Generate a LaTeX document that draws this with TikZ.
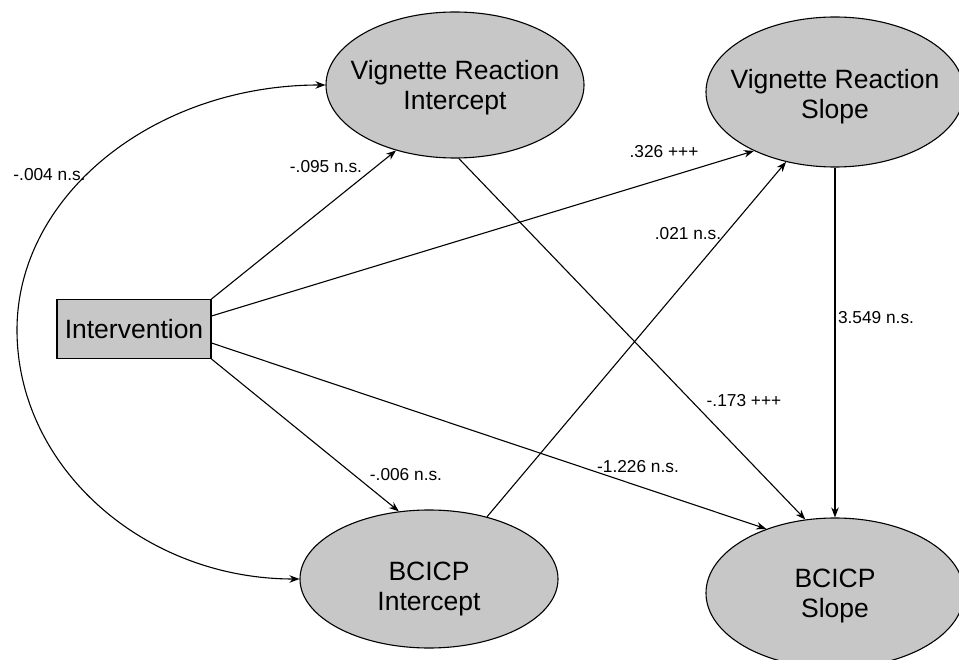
\documentclass[tikz,border=0pt]{standalone}
\usepackage{fontspec}
\setmainfont{Liberation Sans}
\usetikzlibrary{shapes.geometric,arrows.meta}
\definecolor{shade}{gray}{0.78}
\begin{document}
\begin{tikzpicture}[x=1pt,y=-1pt,
  latent/.style={ellipse,draw=black,line width=1.1pt,fill=shade,inner sep=0pt,
    minimum width=258pt,minimum height=146pt},
  nt/.style={align=center,inner sep=0pt,font=\fontsize{26.5}{30}\selectfont},
  obs/.style={rectangle,draw=black,line width=1.1pt,fill=shade,minimum width=154pt,minimum height=59pt,
    inner sep=0pt,font=\fontsize{26.5}{30}\selectfont},
  path/.style={line width=1.1pt,-{Stealth[length=10pt,width=7.5pt]}},
  cov/.style={line width=1.1pt,{Stealth[length=10pt,width=7.5pt]}-{Stealth[length=10pt,width=7.5pt]}},
  coef/.style={font=\fontsize{17.3}{20}\selectfont,inner sep=0pt}]
\useasboundingbox (0,0) rectangle (959,660);
\clip (0,0) rectangle (959,660);
\fill[white] (0,0) rectangle (959,660);

\node[obs] (int) at (134,329) {Intervention};
\node[latent,label={[nt,yshift=-3pt]center:{Vignette Reaction\\Intercept}}] (vri) at (455,85) {};
\node[latent,minimum height=150pt,label={[nt,yshift=-5pt]center:{Vignette Reaction\\Slope}}] (vrs) at (835,92) {};
\node[latent,minimum height=138pt,label={[nt,yshift=-10pt]center:{BCICP\\Intercept}}] (bci) at (429,579) {};
\node[latent,minimum height=150pt,label={[nt,yshift=-3pt]center:{BCICP\\Slope}}] (bcs) at (835,593) {};

\coordinate (cv) at (17,330);
\draw[cov] (vri.west) .. controls +(-171,0) and +(0,-135) .. (cv)
  .. controls +(0,137) and +(-156,0) .. (bci.west);

\draw[path] (int.north east) -- (vri.-132);
\draw[path] ([yshift=13pt]int.east) -- (vrs.-144);
\draw[path] (int.south east) -- (bci.114);
\draw[path] ([yshift=-14pt]int.east) -- (bcs.137.7);
\draw[path] (vri.-87) -- (bcs.112);
\draw[path] (bci.47) -- (vrs.-125);
\draw[path] (vrs.south) -- (bcs.north);

\node[coef] (c1) at (49.5,175) {-.004 n.s.};
\node[coef] (c2) at (326,167) {-.095 n.s.};
\node[coef] (c3) at (664,152) {.326 +++};
\node[coef] (c4) at (688,234) {.021 n.s.};
\node[coef] (c5) at (876,318) {3.549 n.s.};
\node[coef] (c6) at (744,401) {-.173 +++};
\node[coef] (c7) at (638,467) {-1.226 n.s.};
\node[coef] (c8) at (406,475) {-.006 n.s.};
\end{tikzpicture}
\end{document}
